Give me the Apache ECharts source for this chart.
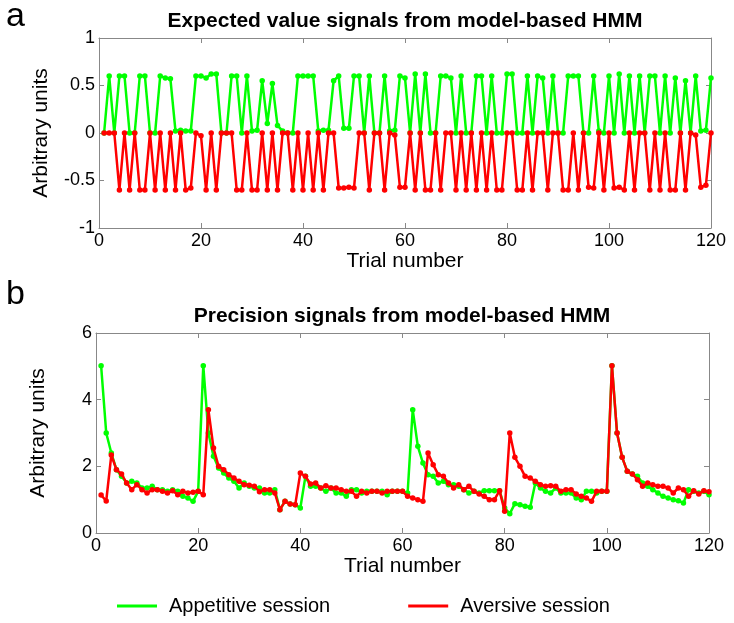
<!DOCTYPE html>
<html><head><meta charset="utf-8">
<script src="https://cdn.jsdelivr.net/npm/echarts@6/dist/echarts.min.js"></script>
<style>html,body{margin:0;padding:0;background:#fff}#c{width:734px;height:623px}</style>
</head><body><div id="c"></div>
<script>
// Expected value signals (panel a), trials 1..120
const evAppetitive = [
 0,0.6,0,0.6,0.6,0,0,0.6,0.6,0,
 0,0.6,0.58,0.57,0.02,0.03,0.02,0.02,0.6,0.6,
 0.58,0.62,0.62,0,0,0.6,0.6,0,0.6,0.02,
 0.03,0.55,0.1,0.52,0.08,0.02,0,0,0.6,0.6,
 0.6,0.6,0.02,0.03,0.03,0.55,0.6,0.05,0.05,0.6,
 0.6,0,0.6,0,0,0.6,0.02,0.03,0.6,0.58,
 0,0.62,0,0.62,0,0,0.6,0.6,0.58,0,
 0.6,0,0,0.6,0.6,0,0.6,0,0,0.62,
 0.62,0,0,0.6,0,0.6,0.58,0,0.6,0,
 0,0.6,0.6,0.6,0,0,0.6,0.02,0,0.6,
 0,0.62,0,0.6,0,0.6,0,0.6,0.6,0,
 0.6,0,0.58,0,0.55,0,0.6,0.02,0.03,0.58
];
const evAversive = [
 0,0,0,-0.6,0,-0.6,0,-0.6,-0.6,0,
 -0.6,0,-0.6,0,-0.6,0,-0.6,-0.58,0,-0.03,
 -0.6,0,-0.6,0,0,0,-0.6,-0.6,0,-0.6,
 -0.6,0,-0.6,0,-0.6,0,0,-0.6,0,-0.6,
 0,-0.6,0,-0.6,0,0,-0.58,-0.58,-0.57,-0.58,
 0,0,-0.6,0,0,-0.6,0,-0.02,-0.57,-0.57,
 0,-0.6,0,-0.6,-0.6,0,-0.6,0,0,-0.6,
 0,-0.6,0,-0.6,0,-0.6,0,-0.6,-0.6,0,
 0,-0.6,-0.6,0,-0.6,0,0,-0.6,0,0,
 -0.6,-0.6,0,-0.6,0,-0.57,-0.58,0,-0.6,0,
 -0.58,-0.57,-0.6,0,-0.6,0,0,-0.6,0,-0.6,
 0,-0.6,-0.6,0,-0.6,0,-0.02,-0.57,-0.55,0
];
// Precision signals (panel b), trials 1..120
const precAppetitive = [
 5.02,3.0,2.4,1.9,1.7,1.5,1.55,1.5,1.35,1.35,
 1.4,1.3,1.3,1.25,1.3,1.25,1.1,1.05,0.95,1.25,
 5.02,3.0,2.3,1.95,1.8,1.65,1.55,1.35,1.5,1.4,
 1.35,1.35,1.2,1.2,1.3,0.7,0.95,0.87,0.85,0.75,
 1.7,1.4,1.4,1.35,1.25,1.35,1.2,1.2,1.1,1.3,
 1.3,1.2,1.25,1.25,1.25,1.25,1.15,1.25,1.25,1.25,
 1.2,3.7,2.6,2.1,1.75,1.7,1.5,1.55,1.45,1.45,
 1.4,1.3,1.2,1.25,1.2,1.27,1.27,1.27,1.27,0.75,
 0.58,0.88,0.85,0.8,0.77,1.5,1.35,1.25,1.2,1.35,
 1.2,1.2,1.2,1.05,1.0,1.25,1.25,1.2,1.25,1.25,
 5.02,3.0,2.27,1.85,1.77,1.7,1.5,1.4,1.3,1.2,
 1.1,1.05,1.0,0.97,0.9,1.3,1.25,1.2,1.25,1.15
];
const precAversive = [
 1.14,0.96,2.34,1.9,1.77,1.5,1.3,1.45,1.3,1.2,
 1.3,1.3,1.25,1.2,1.27,1.15,1.25,1.2,1.22,1.25,
 1.15,3.7,2.55,2.0,1.9,1.75,1.65,1.55,1.45,1.43,
 1.4,1.24,1.3,1.3,1.2,0.7,0.95,0.87,0.85,1.8,
 1.7,1.47,1.5,1.35,1.42,1.35,1.35,1.3,1.25,1.25,
 1.1,1.25,1.2,1.25,1.25,1.2,1.25,1.25,1.25,1.25,
 1.1,1.05,1.0,0.95,2.4,2.05,1.75,1.7,1.5,1.35,
 1.45,1.3,1.4,1.25,1.17,1.1,1.0,1.0,1.27,0.65,
 3.0,2.27,2.0,1.7,1.65,1.55,1.45,1.4,1.42,1.4,
 1.25,1.3,1.3,1.17,1.1,1.05,0.95,1.25,1.25,1.25,
 5.02,3.0,2.27,1.85,1.77,1.6,1.4,1.5,1.45,1.4,
 1.4,1.35,1.2,1.35,1.3,1.1,1.27,1.17,1.27,1.24
];
const seriesNames = ['Appetitive session', 'Aversive session'];
const titles = ['Expected value signals from model-based HMM', 'Precision signals from model-based HMM'];
const panelLetters = ['a', 'b'];
const xName = 'Trial number';
const yName = 'Arbitrary units';

const FONT = '"Liberation Sans", Arial, Helvetica, sans-serif';
const GREEN = '#00ff00', RED = '#ff0000', AX = '#888888';

function pairs(arr) { return arr.map((v, i) => [i + 1, v]); }

const grids = [
  {left: 99, top: 38, width: 612, height: 190},
  {left: 96, top: 333, width: 613, height: 200}
];
const yRanges = [{min: -1, max: 1, interval: 0.5}, {min: 0, max: 6, interval: 2}];

const xAxes = [], yAxes = [];
grids.forEach((g, gi) => {
  const common = {
    type: 'value', gridIndex: gi, min: 0, max: 120, interval: 20,
    axisLine: {show: true, onZero: false, lineStyle: {color: AX, width: 1}},
    axisTick: {show: true, inside: true, length: 5, lineStyle: {color: AX}},
    splitLine: {show: false}
  };
  xAxes.push(Object.assign({}, common, {
    position: 'bottom',
    axisLabel: {color: '#000', fontSize: 18, fontFamily: FONT, margin: 4},
    name: xName, nameLocation: 'middle', nameGap: 22,
    nameTextStyle: {fontSize: 21, color: '#000', fontFamily: FONT}
  }));
  xAxes.push(Object.assign({}, common, {position: 'top', axisLabel: {show: false}}));
  const yc = Object.assign({}, common, yRanges[gi]);
  yAxes.push(Object.assign({}, yc, {
    position: 'left',
    axisLabel: {color: '#000', fontSize: 18, fontFamily: FONT, margin: 4},
    name: yName, nameLocation: 'middle', nameGap: 47,
    nameTextStyle: {fontSize: 21, color: '#000', fontFamily: FONT}
  }));
  yAxes.push(Object.assign({}, yc, {position: 'right', axisLabel: {show: false}}));
});

function lineSeries(name, color, data, gi, z) {
  return {
    name: name, type: 'line', data: pairs(data),
    xAxisIndex: gi * 2, yAxisIndex: gi * 2,
    symbol: 'circle', symbolSize: 5.5, showSymbol: true,
    lineStyle: {color: color, width: 2.5},
    itemStyle: {color: color},
    z: z, animation: false, silent: true
  };
}

const option = {
  backgroundColor: '#fff',
  animation: false,
  grid: grids,
  xAxis: xAxes,
  yAxis: yAxes,
  legend: {
    data: seriesNames, left: 112, top: 591, icon: 'rect',
    itemWidth: 40, itemHeight: 3, itemGap: 78,
    textStyle: {fontSize: 20, fontFamily: FONT, color: '#000', padding: [0, 0, 0, 7]}
  },
  graphic: [
    {type: 'text', x: 405, y: 21, style: {text: titles[0], fill: '#000', fontSize: 21, fontWeight: 'bold', fontFamily: FONT, align: 'center', verticalAlign: 'middle'}},
    {type: 'text', x: 402, y: 316, style: {text: titles[1], fill: '#000', fontSize: 21, fontWeight: 'bold', fontFamily: FONT, align: 'center', verticalAlign: 'middle'}},
    {type: 'text', x: 6, y: 17, style: {text: panelLetters[0], fill: '#000', fontSize: 34, fontFamily: FONT, align: 'left', verticalAlign: 'middle'}},
    {type: 'text', x: 6, y: 295, style: {text: panelLetters[1], fill: '#000', fontSize: 34, fontFamily: FONT, align: 'left', verticalAlign: 'middle'}}
  ],
  series: [
    lineSeries(seriesNames[0], GREEN, evAppetitive, 0, 2),
    lineSeries(seriesNames[1], RED, evAversive, 0, 3),
    lineSeries(seriesNames[0], GREEN, precAppetitive, 1, 2),
    lineSeries(seriesNames[1], RED, precAversive, 1, 3)
  ]
};
const chart = echarts.init(document.getElementById('c'), null, {renderer: 'canvas'});
chart.setOption(option);
</script>
</body></html>
